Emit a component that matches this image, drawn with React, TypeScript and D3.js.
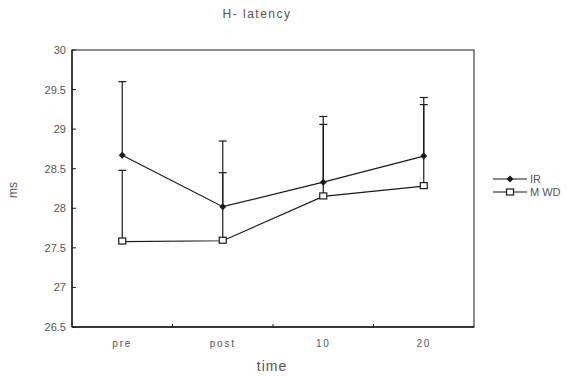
import React from "react";
import * as d3 from "d3";

const categories = ["pre", "post", "10", "20"];
const irMean = [28.67, 28.02, 28.33, 28.66];
const irUpper = [29.6, 28.85, 29.16, 29.4];
const mwdMean = [27.58, 27.59, 28.15, 28.28];
const mwdUpper = [28.48, 28.45, 29.06, 29.31];
const yTicks = [26.5, 27, 27.5, 28, 28.5, 29, 29.5, 30];
const seriesNames = ["IR", "M WD"];

const W = 567, H = 376;
const left = 72, right = 474, top = 50, bottom = 327;
const ink = "#1a1a1a";
const txt = "#555";
const font = "Arial, 'Liberation Sans', sans-serif";

export default function App() {
  const x = d3.scaleBand<string>().domain(categories).range([left, right]).paddingInner(0).paddingOuter(0);
  const cx = (c: string) => (x(c) as number) + x.bandwidth() / 2;
  const y = d3.scaleLinear().domain([26.5, 30]).range([bottom, top]);
  const line = d3.line<number>().x((_, i) => cx(categories[i])).y((v) => y(v));
  const cap = 4;

  return (
    <svg width={W} height={H} style={{ position: "absolute", left: 0, top: 0, background: "#fff" }}>
      <rect x={0} y={0} width={W} height={H} fill="#fff" />
      <text x={257} y={18} textAnchor="middle" fontFamily={font} fontSize={12} fill={txt} letterSpacing={1.5}>H- latency</text>
      {/* plot frame */}
      <rect x={left} y={top} width={right - left} height={bottom - top} fill="none" stroke={ink} strokeWidth={1} />
      <line x1={left} x2={right} y1={bottom} y2={bottom} stroke={ink} strokeWidth={1.6} />
      <line x1={left} x2={left} y1={top} y2={bottom} stroke={ink} strokeWidth={1.4} />
      {/* y ticks */}
      {yTicks.map((t) => (
        <g key={t}>
          <line x1={left} x2={left + 4} y1={y(t)} y2={y(t)} stroke={ink} />
          <text x={66} y={y(t) + 4} textAnchor="end" fontFamily={font} fontSize={11} fill={txt}>{String(t)}</text>
        </g>
      ))}
      {/* x ticks at band boundaries */}
      {categories.slice(1).map((c) => (
        <line key={c} x1={x(c) as number} x2={x(c) as number} y1={bottom} y2={bottom - 3} stroke={ink} />
      ))}
      {categories.map((c) => (
        <text key={c} x={cx(c)} y={347} textAnchor="middle" fontFamily={font} fontSize={10} fill={txt} letterSpacing={1.8}>{c}</text>
      ))}
      <text x={272} y={371} textAnchor="middle" fontFamily={font} fontSize={14} fill={txt} letterSpacing={1}>time</text>
      <text transform={`translate(17,190) rotate(-90)`} textAnchor="middle" fontFamily={font} fontSize={12} fill={txt}>ms</text>
      {/* error bars */}
      {[{ m: irMean, u: irUpper }, { m: mwdMean, u: mwdUpper }].map((s, si) => (
        <g key={si}>
          {categories.map((c, i) => (
            <g key={c}>
              <line x1={cx(c)} x2={cx(c)} y1={y(s.m[i])} y2={y(s.u[i])} stroke={ink} strokeWidth={1.2} />
              <line x1={cx(c) - cap} x2={cx(c) + cap} y1={y(s.u[i])} y2={y(s.u[i])} stroke={ink} strokeWidth={1.2} />
            </g>
          ))}
        </g>
      ))}
      {/* lines */}
      <path d={line(irMean) || ""} fill="none" stroke={ink} strokeWidth={1.2} />
      <path d={line(mwdMean) || ""} fill="none" stroke={ink} strokeWidth={1.2} />
      {irMean.map((v, i) => (
        <path key={i} d={`M${cx(categories[i])},${y(v) - 3.5}l3.5,3.5l-3.5,3.5l-3.5,-3.5z`} fill={ink} />
      ))}
      {mwdMean.map((v, i) => (
        <rect key={i} x={cx(categories[i]) - 3.5} y={y(v) - 3.5} width={7} height={6} fill="#fff" stroke={ink} strokeWidth={1.2} />
      ))}
      {/* legend */}
      <g>
        <line x1={493} x2={527} y1={179} y2={179} stroke={ink} strokeWidth={1.2} />
        <path d={`M510,175.5l3.5,3.5l-3.5,3.5l-3.5,-3.5z`} fill={ink} />
        <text x={530} y={183} fontFamily={font} fontSize={11} fill={txt}>{seriesNames[0]}</text>
        <line x1={493} x2={527} y1={192} y2={192} stroke={ink} strokeWidth={1.2} />
        <rect x={506.5} y={189} width={7} height={6} fill="#fff" stroke={ink} strokeWidth={1.2} />
        <text x={530} y={196} fontFamily={font} fontSize={11} fill={txt}>{seriesNames[1]}</text>
      </g>
    </svg>
  );
}
